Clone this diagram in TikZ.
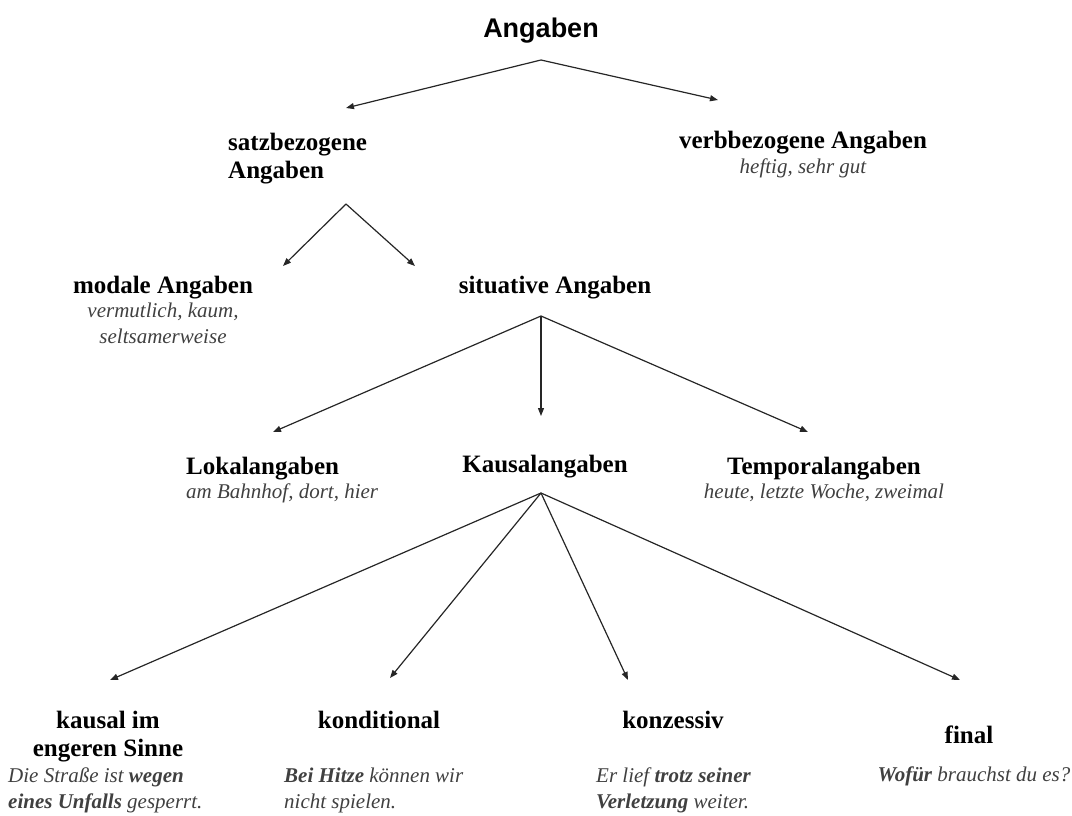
\documentclass[tikz,border=0pt]{standalone}
\usepackage{fontspec}
\setmainfont{Liberation Serif}
\newfontfamily\titlefont{Liberation Sans}
\usetikzlibrary{positioning,arrows.meta}

\tikzset{
  titel/.style={font=\titlefont\bfseries\fontsize{27}{30}\selectfont, inner sep=0pt},
  kopf/.style={font=\bfseries\fontsize{25}{28}\selectfont, align=center, inner sep=0pt},
  bsp/.style={font=\itshape\fontsize{21}{26}\selectfont, text=black!75, align=center, inner sep=0pt},
  pfeil/.style={-{Triangle[length=8pt,width=6pt]}, line width=1.2pt, black!85},
}

\begin{document}
\begin{tikzpicture}[x=1pt,y=-1pt]
    \useasboundingbox (0,0) rectangle (1072,816);
		\node[titel,anchor=base] (angaben) at (541,38) {Angaben};
		% zweite Ebene
		\node[kopf,align=left,anchor=base west] (satz) at (228,178) {satzbezogene\\Angaben};
		\node[kopf,anchor=base] (verb) at (803,149) {verbbezogene Angaben};
		\node[bsp,anchor=base] (verb_b) at ([yshift=-24pt]verb.base) {heftig, sehr gut};
		% dritte Ebene
		\node[kopf,anchor=base] (modal) at (163,293) {modale Angaben};
		\node[bsp,anchor=base] (modal_b) at ([yshift=-50pt]modal.base) {vermutlich, kaum,\\seltsamerweise};
		\node[kopf,anchor=base] (situ) at (555,293) {situative Angaben};
		% vierte Ebene
		\node[kopf,anchor=base west] (lokal) at (186,474) {Lokalangaben};
		\node[bsp,anchor=base west] (lokal_b) at ([yshift=-24pt]lokal.base west) {am Bahnhof, dort, hier};
		\node[kopf,anchor=base] (kausal) at (545,472) {Kausalangaben};
		\node[kopf,anchor=base] (temp) at (824,474) {Temporalangaben};
		\node[bsp,anchor=base] (temp_b) at ([yshift=-24pt]temp.base) {heute, letzte Woche, zweimal};
		% unterste Ebene
		\node[kopf,anchor=base] (k_eng) at (108,756) {kausal im\\engeren Sinne};
		\node[bsp,align=left,anchor=base west] (k_eng_b) at (8,808) {Die Straße ist \textbf{wegen}\\\textbf{eines Unfalls} gesperrt.};
		\node[kopf,anchor=base] (kond) at (379,728) {konditional};
		\node[bsp,align=left,anchor=base west] (kond_b) at (284,808) {\textbf{Bei Hitze} können wir\\nicht spielen.};
		\node[kopf,anchor=base] (konz) at (673,728) {konzessiv};
		\node[bsp,align=left,anchor=base west] (konz_b) at (596,808) {Er lief \textbf{trotz seiner}\\\textbf{Verletzung} weiter.};
		\node[kopf,anchor=base] (final) at (969,743) {final};
		\node[bsp,anchor=base] (final_b) at (974,781) {\textbf{Wofür} brauchst du es?};

		\draw[pfeil] ([yshift=-22pt]angaben.base) -- ([xshift=118pt,yshift=70pt]satz.base west);
		\draw[pfeil] ([yshift=-22pt]angaben.base) -- ([xshift=-85pt,yshift=49pt]verb.base);
		\draw[pfeil] ([xshift=118pt,yshift=-26pt]satz.base west) -- ([xshift=120pt,yshift=27pt]modal.base);
		\draw[pfeil] ([xshift=118pt,yshift=-26pt]satz.base west) -- ([xshift=-140pt,yshift=27pt]situ.base);
		\draw[pfeil] ([xshift=-14pt,yshift=-23pt]situ.base) -- ([xshift=87pt,yshift=42pt]lokal.base west);
		\draw[pfeil] ([xshift=-14pt,yshift=-23pt]situ.base) -- ([xshift=-4pt,yshift=56pt]kausal.base);
		\draw[pfeil] ([xshift=-14pt,yshift=-23pt]situ.base) -- ([xshift=-16pt,yshift=42pt]temp.base);
		\draw[pfeil] ([xshift=-4pt,yshift=-21pt]kausal.base) -- ([xshift=2pt,yshift=76pt]k_eng.base);
		\draw[pfeil] ([xshift=-4pt,yshift=-21pt]kausal.base) -- ([xshift=11pt,yshift=50pt]kond.base);
		\draw[pfeil] ([xshift=-4pt,yshift=-21pt]kausal.base) -- ([xshift=-45pt,yshift=48pt]konz.base);
		\draw[pfeil] ([xshift=-4pt,yshift=-21pt]kausal.base) -- ([xshift=-9pt,yshift=63pt]final.base);
\end{tikzpicture}
\end{document}
